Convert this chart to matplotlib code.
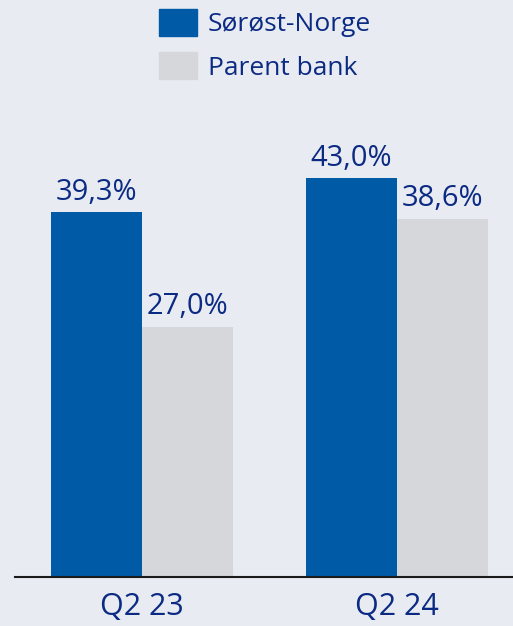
import numpy as np
import matplotlib.pyplot as plt
from matplotlib.patches import Patch

plt.rcParams['font.family'] = ['Open Sans', 'DejaVu Sans']

quarters = ['Q2 23', 'Q2 24']
sorost = [39.3, 43.0]
parent = [27.0, 38.6]
series_names = ['Sørøst-Norge', 'Parent bank']

bg = '#e8ebf1'
blue = '#005aa5'
grey = '#d6d7da'
navy = '#0b2a83'

fig = plt.figure(figsize=(5.13, 6.26), dpi=100, facecolor=bg)
ax = fig.add_axes([0.0292, 0.0783, 0.9708, 0.9217])
ax.set_facecolor(bg)

x = np.arange(len(quarters))
w = 0.357
b1 = ax.bar(x - w / 2, sorost, w, color=blue)
b2 = ax.bar(x + w / 2, parent, w, color=grey)

def fmt(v):
    return f'{v:.1f}%'.replace('.', ',')

for bars, vals in [(b1, sorost), (b2, parent)]:
    for r, v in zip(bars, vals):
        ax.annotate(fmt(v), (r.get_x() + r.get_width() / 2, v),
                    xytext=(0, 4), textcoords='offset points',
                    ha='center', va='bottom', fontsize=21, color=navy)

ax.set_xlim(-0.498, 1.455)
ax.set_ylim(0, 62.2)
ax.set_xticks(x)
ax.set_xticklabels(quarters, fontsize=22, color=navy)
ax.tick_params(axis='x', length=0, pad=11)
ax.set_yticks([])
for s in ['top', 'right', 'left']:
    ax.spines[s].set_visible(False)
ax.spines['bottom'].set_color('#1a1a1a')
ax.spines['bottom'].set_linewidth(1.5)

handles = [Patch(color=blue), Patch(color=grey)]
leg = fig.legend(handles, series_names, loc='upper left',
                 bbox_to_anchor=(0.31, 0.985), frameon=False,
                 fontsize=19, labelcolor=navy, handlelength=1.44,
                 handleheight=1.15, handletextpad=0.42, labelspacing=0.57,
                 borderpad=0, borderaxespad=0)

fig.savefig('out.png', dpi=100, facecolor=bg)
